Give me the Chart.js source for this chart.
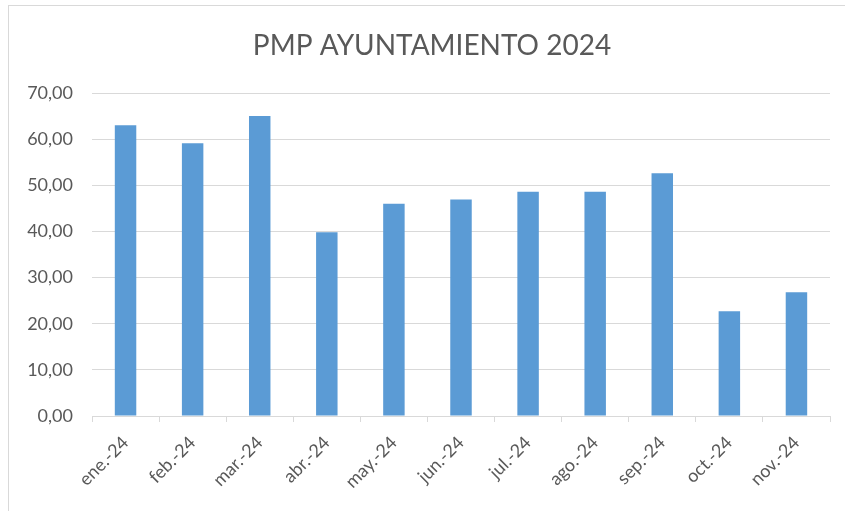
<!DOCTYPE html>
<html>
<head>
<meta charset="utf-8">
<script src="https://cdn.jsdelivr.net/npm/chart.js@4/dist/chart.umd.min.js"></script>
<style>
  html, body { margin: 0; padding: 0; background: #ffffff; overflow: hidden; }
  #wrap { position: relative; width: 845px; height: 511px; }
  #frame { position: absolute; left: 8px; top: 5px; width: 860px; height: 530px; border: 1.5px solid #d9d9d9; box-sizing: border-box; }
  #c { position: absolute; left: 0; top: 0; }
</style>
</head>
<body>
<div id="wrap">
  <div id="frame"></div>
  <canvas id="c" width="845" height="511"></canvas>
</div>
<script>
const categories = ["ene.-24", "feb.-24", "mar.-24", "abr.-24", "may.-24", "jun.-24", "jul.-24", "ago.-24", "sep.-24", "oct.-24", "nov.-24"];
const pmpValues = [63.0, 59.1, 65.0, 39.8, 46.0, 46.9, 48.6, 48.6, 52.6, 22.7, 26.8];
const yTicks = [0, 10, 20, 30, 40, 50, 60, 70];
const chartTitle = "PMP AYUNTAMIENTO 2024";

const FONT = "Lato, 'Open Sans', sans-serif";
const TXT = "#595959";
const GRID = "#d9d9d9";

const titlePlugin = {
  id: 'offsetTitle',
  afterDraw(chart) {
    const ctx = chart.ctx;
    ctx.save();
    ctx.font = "normal 28px " + FONT;
    ctx.fillStyle = TXT;
    ctx.textAlign = 'center';
    ctx.textBaseline = 'middle';
    ctx.fillText(chartTitle, 432, 46);
    ctx.restore();
  }
};

new Chart(document.getElementById('c'), {
  type: 'bar',
  data: {
    labels: categories,
    datasets: [{
      data: pmpValues,
      backgroundColor: "#5b9bd5",
      borderWidth: 0,
      categoryPercentage: 1.0,
      barPercentage: 0.32
    }]
  },
  plugins: [titlePlugin],
  options: {
    responsive: false,
    animation: false,
    layout: { padding: { left: 0, right: 15, top: 93, bottom: 0 } },
    plugins: {
      legend: { display: false },
      tooltip: { enabled: false },
      title: { display: false }
    },
    scales: {
      x: {
        grid: { display: true, offset: true, drawOnChartArea: false, drawTicks: true, tickLength: 6, color: GRID },
        border: { display: true, color: GRID, width: 1 },
        ticks: {
          color: TXT,
          font: { family: FONT, size: 18 },
          minRotation: 45, maxRotation: 45,
          autoSkip: false,
          padding: 10
        },
        afterFit: (s) => { s.height = 95; }
      },
      y: {
        min: 0,
        max: 70,
        afterBuildTicks: (s) => { s.ticks = yTicks.map(v => ({ value: v })); },
        grid: { color: GRID, drawTicks: false, lineWidth: 1 },
        border: { display: false },
        ticks: {
          color: TXT,
          font: { family: FONT, size: 18 },
          padding: 19,
          callback: (v) => Number(v).toFixed(2).replace('.', ',')
        },
        afterFit: (s) => { s.width = 92; }
      }
    }
  }
});
</script>
</body>
</html>
